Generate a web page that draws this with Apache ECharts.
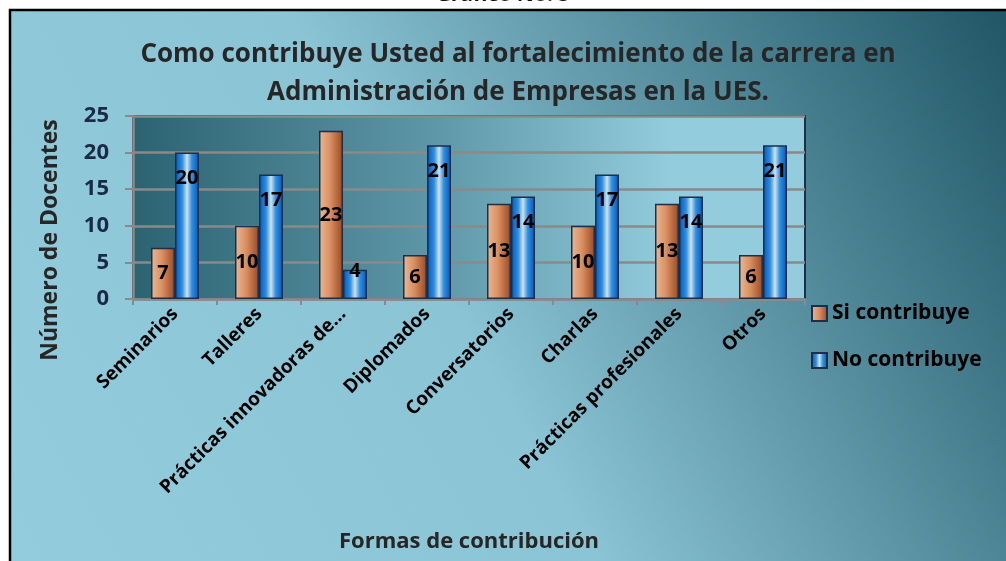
<!DOCTYPE html>
<html>
<head>
<meta charset="utf-8">
<script src="https://cdn.jsdelivr.net/npm/echarts@6/dist/echarts.min.js"></script>
<style>
  html, body { margin: 0; padding: 0; background: #fff; }
  #grafico { width: 1006px; height: 561px; }
</style>
</head>
<body>
<div id="grafico"></div>
<script>
// datos del grafico
var categorias = ['Seminarios', 'Talleres', 'Prácticas innovadoras de…', 'Diplomados',
	'Conversatorios', 'Charlas', 'Prácticas profesionales', 'Otros'];
var siContribuye = [7, 10, 23, 6, 13, 10, 13, 6];
var noContribuye = [20, 17, 4, 21, 14, 17, 14, 21];
var ticksY = [0, 5, 10, 15, 20, 25];

var fuente = '"Open Sans", "Noto Sans", sans-serif';

function initGrafico() {
	var myChart = echarts.init(document.getElementById('grafico'));

	var colorSi = new echarts.graphic.LinearGradient(0, 0, 1, 0, [
		{ offset: 0, color: '#ebb993' },
		{ offset: 0.45, color: '#d99164' },
		{ offset: 1, color: '#9a4820' }
	]);
	var colorNo = new echarts.graphic.LinearGradient(0, 0, 1, 0, [
		{ offset: 0, color: '#0056bd' },
		{ offset: 0.3, color: '#2f8fe0' },
		{ offset: 0.5, color: '#cfe2ec' },
		{ offset: 0.7, color: '#2f8fe0' },
		{ offset: 1, color: '#0056bd' }
	]);

	// la barra pequeña lleva la etiqueta casi en el borde
	var datosNo = noContribuye.map(function (v) {
		if (v < 5) {
			return { value: v, label: { distance: -8 } };
		}
		return v;
	});

	var option = {
		backgroundColor: '#ffffff',
		graphic: [{
			type: 'rect',
			z: -10,
			shape: { x: 10, y: 10, width: 1000, height: 560 },
			style: {
				fill: new echarts.graphic.LinearGradient(0, 1, 1, 0, [
					{ offset: 0, color: '#93ccdd' },
					{ offset: 0.45, color: '#8bc4d5' },
					{ offset: 1, color: '#1f5565' }
				]),
				stroke: '#000',
				lineWidth: 2.5
			}
		}, {
			// titulo del eje Y
			type: 'text',
			x: 50,
			y: 240,
			rotation: Math.PI / 2,
			style: {
				text: 'Número de Docentes',
				align: 'center',
				verticalAlign: 'middle',
				fontFamily: fuente,
				fontSize: 23,
				fontWeight: 'bold',
				fill: '#262626'
			}
		}],
		title: [{
			text: 'Gráfico No. 5',
			left: 'center',
			top: -20,
			textStyle: { fontFamily: fuente, fontSize: 21, fontWeight: 'bold', color: '#111' }
		}, {
			text: 'Como contribuye Usted al fortalecimiento de la carrera en\nAdministración de Empresas en la UES.',
			left: 513,
			top: 31,
			textAlign: 'center',
			textStyle: { fontFamily: fuente, fontSize: 26, fontWeight: 'bold', color: '#262626', lineHeight: 38 }
		}],
		legend: {
			orient: 'vertical',
			left: 806,
			top: 298,
			itemGap: 26,
			itemWidth: 15,
			itemHeight: 15,
			icon: 'rect',
			textStyle: { fontFamily: fuente, fontSize: 21, fontWeight: 'bold', color: '#000' },
			data: ['Si contribuye', 'No contribuye']
		},
		grid: {
			left: 133,
			right: 201,
			top: 116,
			bottom: 262,
			show: true,
			borderColor: '#1c2e48',
			borderWidth: 2,
			backgroundColor: new echarts.graphic.LinearGradient(0, 0, 1, 0, [
				{ offset: 0, color: '#2c6373' },
				{ offset: 0.45, color: '#5e97a7' },
				{ offset: 0.8, color: '#93ccdd' },
				{ offset: 1, color: '#93ccdd' }
			])
		},
		xAxis: [{
			type: 'category',
			data: categorias,
			name: 'Formas de contribución',
			nameLocation: 'middle',
			nameGap: 232,
			nameTextStyle: { fontFamily: fuente, fontSize: 22, fontWeight: 'bold', color: '#262626' },
			axisLine: { lineStyle: { color: '#8a8a8a', width: 2.5 } },
			axisTick: { show: true, length: 6, lineStyle: { color: '#8a8a8a', width: 2 } },
			axisLabel: {
				interval: 0,
				rotate: 45,
				margin: 12,
				fontFamily: fuente,
				fontSize: 19,
				fontWeight: 'bold',
				color: '#000'
			}
		}],
		yAxis: [{
			type: 'value',
			min: ticksY[0],
			max: ticksY[ticksY.length - 1],
			interval: 5,
			axisLine: { show: true, lineStyle: { color: '#8a8a8a', width: 2.5 } },
			axisTick: { show: true, length: 8, lineStyle: { color: '#8a8a8a', width: 2 } },
			axisLabel: {
				margin: 24,
				fontFamily: fuente,
				fontSize: 22,
				fontWeight: 'bold',
				color: '#1a2a44'
			},
			splitLine: { lineStyle: { color: '#8a8a8a', width: 2.5 } }
		}],
		series: [{
			name: 'Si contribuye',
			type: 'bar',
			data: siContribuye,
			barWidth: 24,
			barGap: '0%',
			itemStyle: { color: colorSi, borderColor: '#1c2e48', borderWidth: 1.5 },
			label: {
				show: true,
				position: 'inside',
				fontFamily: fuente,
				fontSize: 20,
				fontWeight: 'bold',
				color: '#000'
			}
		}, {
			name: 'No contribuye',
			type: 'bar',
			data: datosNo,
			barWidth: 24,
			itemStyle: { color: colorNo, borderColor: '#1c2e48', borderWidth: 1.5 },
			label: {
				show: true,
				position: 'insideTop',
				distance: 16,
				fontFamily: fuente,
				fontSize: 20,
				fontWeight: 'bold',
				color: '#000'
			}
		}]
	};
	myChart.setOption(option);
}

initGrafico();
</script>
</body>
</html>
